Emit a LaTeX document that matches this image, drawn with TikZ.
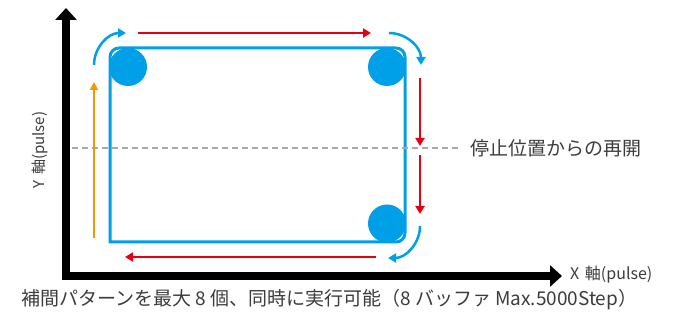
\documentclass[tikz,border=0pt]{standalone}
\usepackage{fontspec}
\setmainfont{Noto Sans CJK JP}
\usetikzlibrary{arrows.meta}
\definecolor{cblue}{HTML}{00A0E9}
\definecolor{cred}{HTML}{E60012}
\definecolor{corange}{HTML}{F39800}
\definecolor{ctext}{HTML}{3C3C3C}
\definecolor{cdash}{HTML}{A8A8A8}
\tikzset{
  axis/.style={line width=8pt,line join=miter,{Triangle[width=21pt,length=12pt]}-{Triangle[width=21pt,length=12pt]}},
  rectline/.style={draw=cblue,line width=3pt},
  corner/.style={fill=cblue,draw=none},
  redarrow/.style={draw=cred,line width=2.5pt,-{Triangle[width=9pt,length=8pt]}},
  bluearrow/.style={draw=cblue,line width=2.5pt,-{Triangle[width=9pt,length=8pt]}},
  orangearrow/.style={draw=corange,line width=2pt,-{Triangle[width=8pt,length=8pt]}},
  restart/.style={draw=cdash,line width=1.2pt,dash pattern=on 6pt off 4pt},
  lbl/.style={text=ctext,inner sep=0pt},
}
\begin{document}
\begin{tikzpicture}[x=1pt,y=-1pt]
\useasboundingbox (0,0) rectangle (690,320);
% axes
\coordinate (Ytip) at (66,8);
\coordinate (O) at (66,276);
\coordinate (Xtip) at (562,276);
\draw[axis] (Ytip) -- (O) -- (Xtip);
% rectangle path
\coordinate (BL) at (110,242);
\coordinate (Lm) at (110,150);
\coordinate (TL) at (110,48);
\coordinate (TR) at (405,48);
\coordinate (BR) at (405,242);
\coordinate (Bm) at (250,242);
\draw[rectline] (BL) -- (Lm) [rounded corners=9pt] -- (TL) -- (TR) -- (BR) -- (Bm) [sharp corners] -- (BL) -- cycle;
% corner circles
\node[corner,circle,minimum size=38pt,inner sep=0pt] (c1) at (128,67) {};
\node[corner,circle,minimum size=38pt,inner sep=0pt] (c2) at (387,67) {};
\node[corner,circle,minimum size=38pt,inner sep=0pt] (c3) at (387,223.5) {};
% dashed restart line
\coordinate (d1) at (72,148);
\coordinate (d2) at (460,148);
\draw[restart] (d1) -- (d2);
% orange arrow
\coordinate (o1) at (94,238);
\coordinate (o2) at (94,82);
\draw[orangearrow] (o1) -- (o2);
% blue curved arrows
\coordinate (b1s) at (94,65);
\coordinate (b1e) at (126,33);
\draw[bluearrow] (b1s) .. controls (94,47.3) and (108.3,33) .. (b1e);
\coordinate (b2s) at (389,33);
\coordinate (b2e) at (421,65);
\draw[bluearrow] (b2s) .. controls (406.7,33) and (421,47.3) .. (b2e);
\coordinate (b3s) at (420,226);
\coordinate (b3e) at (388,258);
\draw[bluearrow] (b3s) .. controls (420,243.7) and (405.7,258) .. (b3e);
% red arrows
\coordinate (r1s) at (138,33);
\coordinate (r1e) at (371,33);
\draw[redarrow] (r1s) -- (r1e);
\coordinate (r2s) at (420,78);
\coordinate (r2e) at (420,146);
\draw[redarrow] (r2s) -- (r2e);
\coordinate (r3s) at (420,155);
\coordinate (r3e) at (420,214);
\draw[redarrow] (r3s) -- (r3e);
\coordinate (r4s) at (376,257);
\coordinate (r4e) at (125,257);
\draw[redarrow] (r4s) -- (r4e);
% labels
\node[lbl,rotate=90,font=\fontsize{15pt}{17pt}\selectfont] (ylbl) at (40,150) {Y\hspace{0.35em}軸(pulse)};
\node[lbl,anchor=west,font=\fontsize{16pt}{18pt}\selectfont] (xlbl) at (570,275) {X\hspace{0.35em}軸(pulse)};
\node[lbl,anchor=west,font=\fontsize{19pt}{21pt}\selectfont] (rlbl) at (470,148) {停止位置からの再開};
\node[lbl,anchor=west,font=\fontsize{19pt}{21pt}\selectfont] (blbl) at (21,300) {補間パターンを最大 8 個、同時に実行可能（8 バッファ Max.5000Step）};
\end{tikzpicture}
\end{document}
